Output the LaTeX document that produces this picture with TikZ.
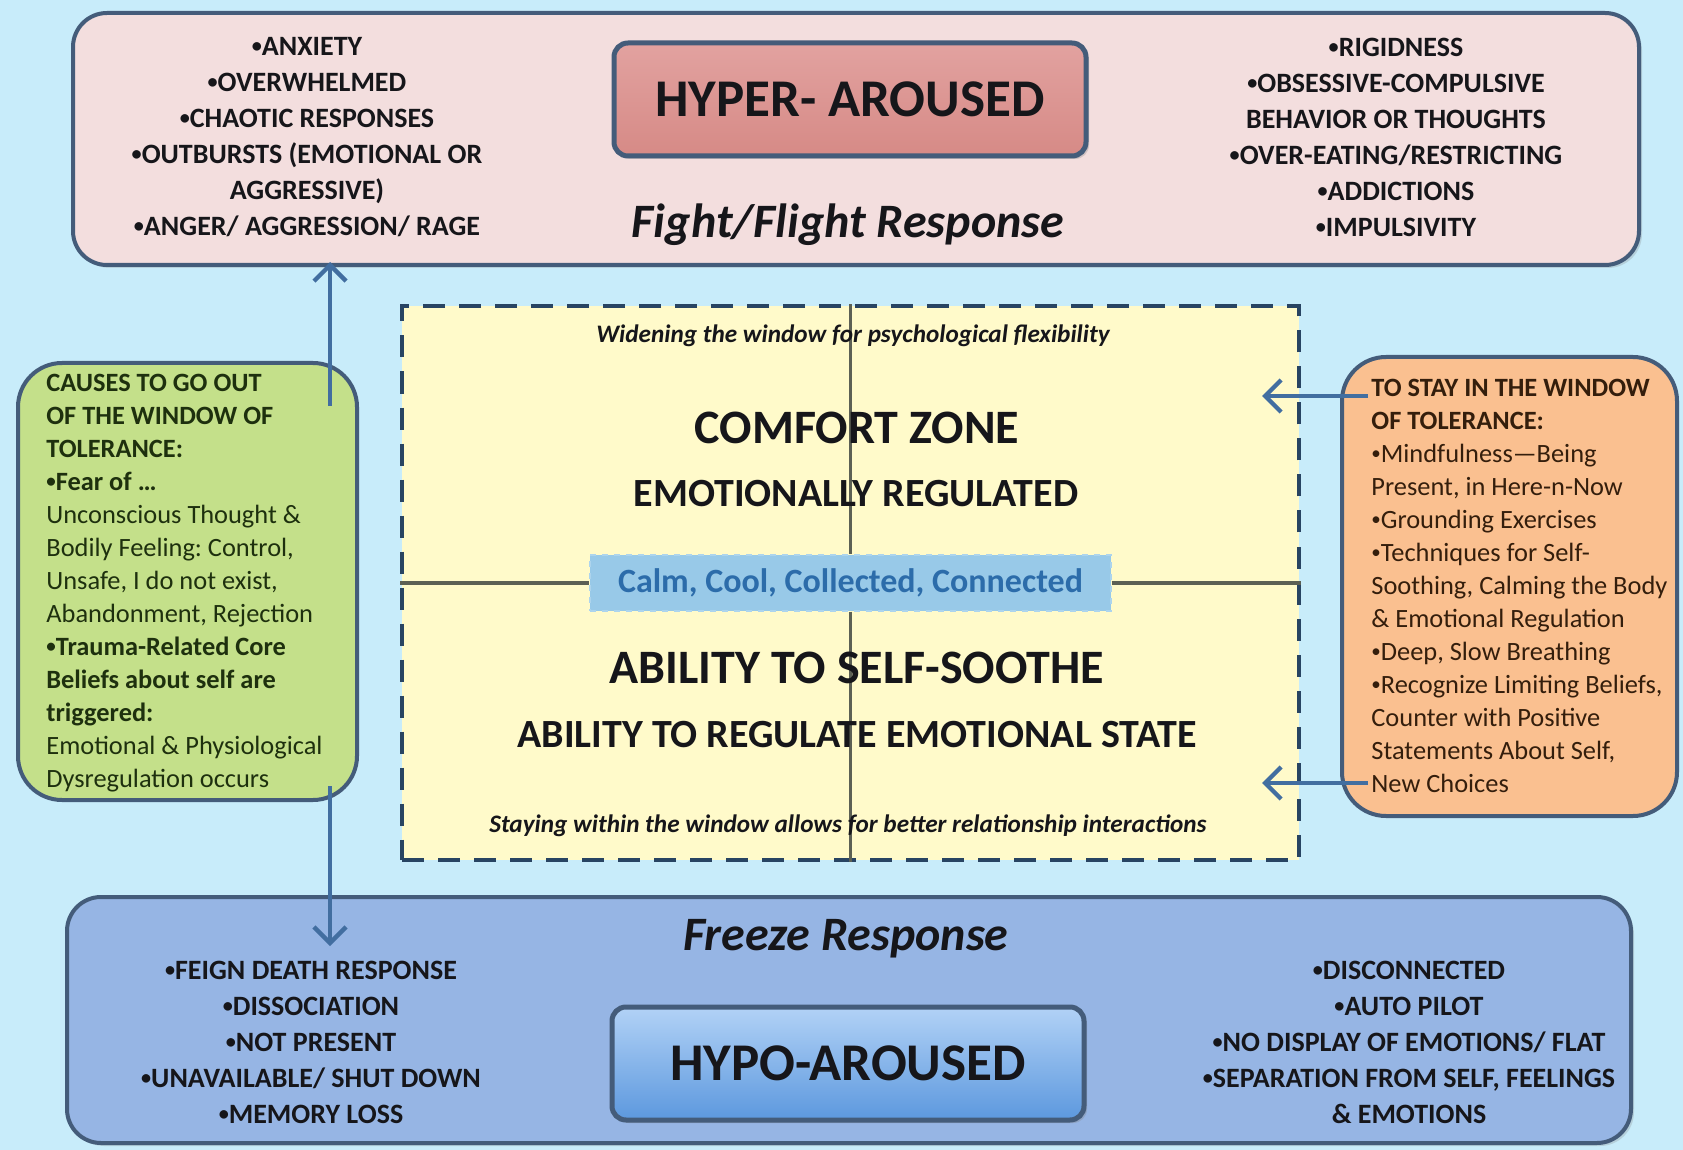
\documentclass[tikz,border=0pt]{standalone}
\usepackage{fontspec}
\usepackage{graphicx}
\setmainfont{Carlito}
\usetikzlibrary{arrows.meta,shadows}
\definecolor{bgc}{RGB}{200,236,250}
\definecolor{edgec}{RGB}{68,92,122}
\definecolor{pinkc}{RGB}{243,222,222}
\definecolor{salmontop}{RGB}{226,162,160}
\definecolor{salmonbot}{RGB}{214,138,134}
\definecolor{bluec}{RGB}{150,181,228}
\definecolor{hypotop}{RGB}{178,210,246}
\definecolor{hypobot}{RGB}{92,152,222}
\definecolor{greenc}{RGB}{196,224,138}
\definecolor{greentxt}{RGB}{30,48,14}
\definecolor{orangec}{RGB}{250,192,144}
\definecolor{orangetxt}{RGB}{52,30,12}
\definecolor{yellowc}{RGB}{255,250,202}
\definecolor{dashc}{RGB}{40,68,98}
\definecolor{calmc}{RGB}{152,201,232}
\definecolor{calmtxt}{RGB}{44,108,170}
\definecolor{arrowc}{RGB}{66,110,160}
\definecolor{crossc}{RGB}{92,96,84}
\definecolor{inkc}{RGB}{22,22,26}
\newcommand\bl[1]{{\bfseries #1}}
\newcommand\bu{\raisebox{0.1em}{\scalebox{0.72}{•}}}
\frenchspacing
\begin{document}
\begin{tikzpicture}[x=0.5pt,y=-0.5pt,
  bigbox/.style={draw=edgec,line width=2pt,rounded corners=17pt,inner sep=0pt,
    drop shadow={shadow xshift=1.5pt,shadow yshift=-1.5pt,opacity=0.25}},
  titlebox/.style={draw=edgec,line width=2.5pt,rounded corners=7pt,inner sep=0pt,
    minimum width=236pt,minimum height=56.5pt,text=inkc,
    font=\fontsize{26.5}{30}\selectfont\bfseries,
    drop shadow={shadow xshift=1.5pt,shadow yshift=-1.5pt,opacity=0.3}},
  sidebox/.style={draw=edgec,line width=2pt,rounded corners=22pt,inner sep=0pt},
  listtxt/.style={align=center,inner sep=0pt,text=inkc,
    font=\fontsize{14}{18}\selectfont\bfseries},
  sidetxt/.style={align=left,inner sep=0pt,anchor=west,
    font=\fontsize{13.2}{16.5}\selectfont},
  resptxt/.style={inner sep=0pt,text=inkc,font=\fontsize{24}{28}\selectfont\bfseries\itshape},
  bigtxt/.style={inner sep=0pt,text=inkc,font=\fontsize{24}{28}\selectfont\bfseries},
  midtxt/.style={inner sep=0pt,text=inkc,font=\fontsize{20}{24}\selectfont\bfseries},
  smalltxt/.style={inner sep=0pt,text=inkc,font=\fontsize{12.6}{14}\selectfont\bfseries\itshape},
  crossline/.style={draw=crossc,line width=1.6pt},
  arr/.style={draw=arrowc,line width=2.2pt,-{Straight Barb[length=8pt,width=16pt]}}
]
\useasboundingbox (0,0) rectangle (1683,1150);
\fill[bgc] (0,0) rectangle (1683,1150);

% top (hyper-aroused) panel
\node[bigbox,fill=pinkc,minimum width=783pt,minimum height=126pt] (top) at (856,139) {};
\node[titlebox,top color=salmontop,bottom color=salmonbot] (hyper) at (850,99.5) {HYPER- AROUSED};
\node[resptxt] (fight) at (848,225) {Fight/Flight Response};
\node[listtxt] (hypl) at (307,137) {\bu ANXIETY\\\bu OVERWHELMED\\\bu CHAOTIC RESPONSES\\\bu OUTBURSTS (EMOTIONAL OR\\AGGRESSIVE)\\\bu ANGER/ AGGRESSION/ RAGE};
\node[listtxt] (hypr) at (1396,137) {\bu RIGIDNESS\\\bu OBSESSIVE-COMPULSIVE\\BEHAVIOR OR THOUGHTS\\\bu OVER-EATING/RESTRICTING\\\bu ADDICTIONS\\\bu IMPULSIVITY};

% bottom (hypo-aroused) panel
\node[bigbox,fill=bluec,minimum width=782pt,minimum height=123pt] (bot) at (849,1020) {};
\node[resptxt] (freeze) at (846,939) {Freeze Response};
\node[titlebox,top color=hypotop,bottom color=hypobot] (hypo) at (848,1063.5) {HYPO-AROUSED};
\node[listtxt] (hpl) at (311,1042) {\bu FEIGN DEATH RESPONSE\\\bu DISSOCIATION\\\bu NOT PRESENT\\\bu UNAVAILABLE/ SHUT DOWN\\\bu MEMORY LOSS};
\node[listtxt] (hpr) at (1409,1042) {\bu DISCONNECTED\\\bu AUTO PILOT\\\bu NO DISPLAY OF EMOTIONS/ FLAT\\\bu SEPARATION FROM SELF, FEELINGS\\\& EMOTIONS};

% window of tolerance
\node[draw=dashc,fill=yellowc,line width=2pt,dash pattern=on 11pt off 7pt,
      minimum width=448.5pt,minimum height=276.5pt,inner sep=0pt] (win) at (850.5,583) {};
\node[fill=calmc,draw=calmc!80!white,dashed,line width=0.6pt,minimum width=260.5pt,minimum height=28pt,
      inner sep=0pt,text=calmtxt,font=\fontsize{17}{20}\selectfont\bfseries] (calm) at (850.5,583)
      {Calm, Cool, Collected, Connected};
\draw[crossline] (win.north) -- (calm.north);
\draw[crossline] (calm.south) -- (win.south);
\draw[crossline] (win.west) -- (calm.west);
\draw[crossline] (calm.east) -- (win.east);
\node[smalltxt] (widen) at (853,336) {Widening the window for psychological flexibility};
\node[bigtxt] (comfort) at (857,428) {COMFORT ZONE};
\node[midtxt] (emreg) at (856,494) {EMOTIONALLY REGULATED};
\node[bigtxt] (soothe) at (857,668) {ABILITY TO SELF-SOOTHE};
\node[midtxt] (regstate) at (857,735) {ABILITY TO REGULATE EMOTIONAL STATE};
\node[smalltxt] (stay) at (848,826) {Staying within the window allows for better relationship interactions};

% side boxes
\node[sidebox,fill=greenc,minimum width=169.5pt,minimum height=218.5pt] (green) at (187.5,581.5) {};
\node[sidetxt,text=greentxt] (greentext) at (46,583) {\bl{CAUSES TO GO OUT}\\\bl{OF THE WINDOW OF}\\\bl{TOLERANCE:}\\\bl{\bu Fear of …}\\Unconscious Thought \&\\Bodily Feeling: Control,\\Unsafe, I do not exist,\\Abandonment, Rejection\\\bl{\bu Trauma-Related Core}\\\bl{Beliefs about self are}\\\bl{triggered:}\\Emotional \& Physiological\\Dysregulation occurs};
\node[sidebox,fill=orangec,minimum width=167.5pt,minimum height=229.5pt] (orange) at (1509.5,586.5) {};
\node[sidetxt,text=orangetxt] (orangetext) at (1371,586) {\bl{TO STAY IN THE WINDOW}\\\bl{OF TOLERANCE:}\\\bu Mindfulness—Being\\Present, in Here-n-Now\\\bu Grounding Exercises\\\bu Techniques for Self-\\Soothing, Calming the Body\\\& Emotional Regulation\\\bu Deep, Slow Breathing\\\bu Recognize Limiting Beliefs,\\Counter with Positive\\Statements About Self,\\New Choices};

% connectors
\coordinate (gup) at (330,406);
\coordinate (gupend) at (330,262);
\coordinate (gdown) at (330,786);
\coordinate (gdownend) at (330,946);
\draw[arr] (gup) -- (gupend);
\draw[arr] (gdown) -- (gdownend);
\coordinate (o1) at (1368,396);
\coordinate (w1) at (1262,396);
\coordinate (o2) at (1368,783);
\coordinate (w2) at (1262,783);
\draw[arr] (o1) -- (w1);
\draw[arr] (o2) -- (w2);
\end{tikzpicture}
\end{document}
